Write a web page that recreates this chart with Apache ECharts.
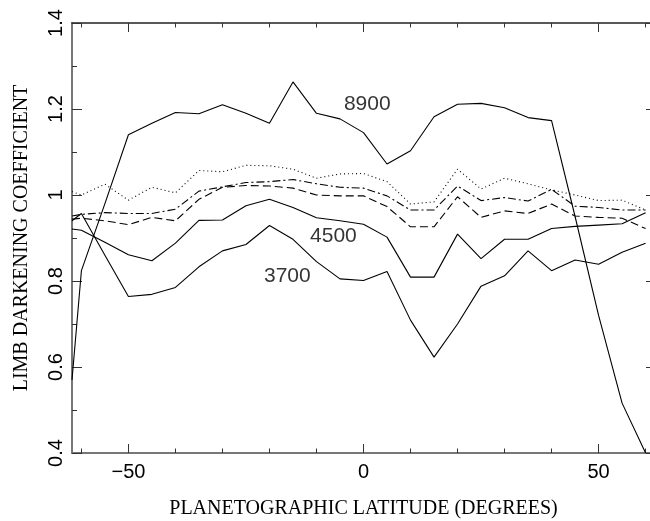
<!DOCTYPE html>
<html>
<head>
<meta charset="utf-8">
<script src="https://cdn.jsdelivr.net/npm/echarts@6/dist/echarts.min.js"></script>
<style>html,body{margin:0;padding:0;background:#fff;}#c{width:650px;height:521px;}</style>
</head>
<body>
<div id="c"></div>
<script>
// Planetographic latitude (degrees)
const latitudes = [-62,-60,-55,-50,-45,-40,-35,-30,-25,-20,-15,-10,-5,0,5,10,15,20,25,30,35,40,45,50,55,60];
// Limb darkening coefficients
const s8900   = [0.57,0.824,0.98,1.14,1.167,1.192,1.189,1.21,1.19,1.167,1.263,1.19,1.177,1.145,1.072,1.103,1.182,1.211,1.213,1.203,1.18,1.173,0.95,0.72,0.516,0.4];
const s4500   = [0.921,0.918,0.89,0.861,0.847,0.888,0.941,0.942,0.975,0.99,0.971,0.947,0.94,0.932,0.902,0.809,0.809,0.909,0.852,0.897,0.897,0.922,0.927,0.93,0.933,0.959];
const s3700   = [0.94,0.957,0.86,0.764,0.769,0.785,0.833,0.87,0.885,0.929,0.897,0.845,0.805,0.801,0.822,0.709,0.623,0.70,0.788,0.812,0.87,0.824,0.849,0.839,0.867,0.888];
const sDotted = [1.008,1.0,1.025,0.988,1.018,1.005,1.057,1.054,1.069,1.068,1.06,1.039,1.049,1.05,1.031,0.979,0.984,1.06,1.014,1.039,1.026,1.012,1.0,0.987,0.988,0.965];
const sDashDot= [0.951,0.955,0.959,0.957,0.957,0.967,1.009,1.019,1.029,1.031,1.036,1.026,1.018,1.016,0.998,0.965,0.965,1.021,0.987,0.994,0.986,1.013,0.974,0.971,0.965,0.965];
const sDashed = [0.944,0.946,0.94,0.931,0.948,0.94,0.99,1.018,1.022,1.021,1.016,1.0,0.998,0.998,0.973,0.926,0.926,0.996,0.948,0.963,0.957,0.979,0.951,0.948,0.946,0.922];
// Curve labels [lat, value, text]
const curveLabels = [[0.8,1.212,'8900'],[-6.4,0.905,'4500'],[-16.2,0.812,'3700']];
// Ticks
const xMajorTicks = [-50,0,50];
const xMinorTicks = [-60,-40,-30,-20,-10,10,20,30,40,60];
const xTitle = 'PLANETOGRAPHIC LATITUDE (DEGREES)';
const yTitle = 'LIMB DARKENING COEFFICIENT';

const pair = arr => latitudes.map((x,i)=>[x,arr[i]]);
const SANS = '"Liberation Sans", Arial, sans-serif';
const SERIF = '"Liberation Serif", "Times New Roman", serif';
const XMIN = -62, XMAX = 62;

function line(data, type) {
  return {type:'line', data:pair(data), symbol:'none', silent:true, animation:false,
    lineStyle:{color:'#000', width:1.1, type:type}, z:3};
}

const chart = echarts.init(document.getElementById('c'), null, {renderer:'canvas'});
chart.setOption({
  animation:false,
  backgroundColor:'#fff',
  grid:{left:72, top:23, width:583, height:430, containLabel:false, outerBoundsMode:'none'},
  xAxis:[
    {type:'value', min:XMIN, max:XMAX, position:'bottom',
     axisLine:{show:true, onZero:false, lineStyle:{color:'#777', width:2}},
     axisTick:{show:true, inside:true, length:9, customValues:xMajorTicks, lineStyle:{color:'#333', width:1}},
     axisLabel:{show:true, customValues:xMajorTicks, margin:9, color:'#000', fontFamily:SANS, fontSize:20,
       formatter:v=>String(v).replace('-','\u2212')},
     splitLine:{show:false},
     name:xTitle, nameLocation:'middle', nameGap:46,
     nameTextStyle:{fontFamily:SERIF, fontSize:20, color:'#000'}},
    {type:'value', min:XMIN, max:XMAX, position:'bottom',
     axisLine:{show:false, onZero:false}, axisLabel:{show:false}, splitLine:{show:false},
     axisTick:{show:true, inside:true, length:4.5, customValues:xMinorTicks, lineStyle:{color:'#333', width:1}}},
    {type:'value', min:XMIN, max:XMAX, position:'top',
     axisLine:{show:true, onZero:false, lineStyle:{color:'#222', width:1.5}}, axisLabel:{show:false}, splitLine:{show:false},
     axisTick:{show:true, inside:true, length:9, customValues:xMajorTicks, lineStyle:{color:'#333', width:1}}},
    {type:'value', min:XMIN, max:XMAX, position:'top',
     axisLine:{show:false, onZero:false}, axisLabel:{show:false}, splitLine:{show:false},
     axisTick:{show:true, inside:true, length:4.5, customValues:xMinorTicks, lineStyle:{color:'#333', width:1}}}
  ],
  yAxis:[
    {type:'value', min:0.4, max:1.4, interval:0.2, position:'left',
     axisLine:{show:true, onZero:false, lineStyle:{color:'#777', width:2}},
     axisTick:{show:true, inside:true, length:10, lineStyle:{color:'#333', width:1}},
     minorTick:{show:true, splitNumber:2, length:5, lineStyle:{color:'#333', width:1}},
     axisLabel:{show:true, rotate:90, margin:6, color:'#000', fontFamily:SANS, fontSize:20},
     splitLine:{show:false},
     name:yTitle, nameLocation:'middle', nameGap:40, nameRotate:90,
     nameTextStyle:{fontFamily:SERIF, fontSize:20, color:'#000'}},
    {type:'value', min:0.4, max:1.4, interval:0.2, position:'right',
     axisLine:{show:false, onZero:false}, axisLabel:{show:false}, splitLine:{show:false},
     axisTick:{show:true, inside:true, length:9, lineStyle:{color:'#333', width:1}},
     minorTick:{show:true, splitNumber:2, length:4.5, lineStyle:{color:'#333', width:1}}}
  ],
  series:[
    line(s8900,'solid'),
    line(s4500,'solid'),
    line(s3700,'solid'),
    line(sDotted,[1,3]),
    line(sDashDot,[8,3,2,3]),
    line(sDashed,[8,4]),
    {type:'scatter', data:curveLabels, symbolSize:0, silent:true, z:4,
     label:{show:true, position:'inside', formatter:p=>p.data[2], color:'#000', fontFamily:SANS, fontSize:21}}
  ]
});
</script>
</body>
</html>
